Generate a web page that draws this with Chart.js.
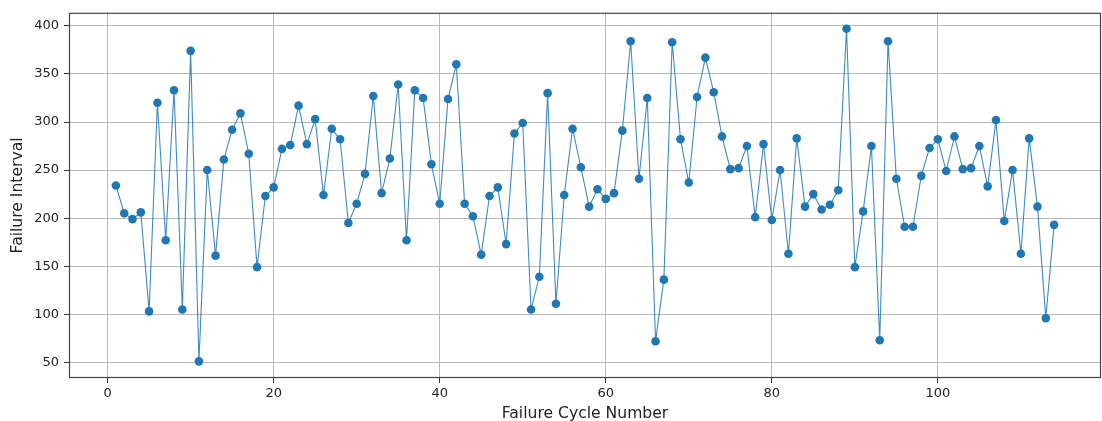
<!DOCTYPE html>
<html>
<head>
<meta charset="utf-8">
<title>Failure Interval by Cycle</title>
<script src="https://cdn.jsdelivr.net/npm/chart.js@4/dist/chart.umd.min.js"></script>
<style>
  html, body { margin: 0; padding: 0; background: #fff; }
  canvas { display: block; }
</style>
</head>
<body>
<canvas id="chart" width="1102" height="421"></canvas>
<script>
// values
const intervals = [
  234, 205, 199, 206, 103, 320, 177, 333, 105, 374,
  51, 250, 161, 261, 292, 309, 267, 149, 223, 232,
  272, 276, 317, 277, 303, 224, 293, 282, 195, 215,
  246, 327, 226, 262, 339, 177, 333, 325, 256, 215,
  324, 360, 215, 202, 162, 223, 232, 173, 288, 299,
  105, 139, 330, 111, 224, 293, 253, 212, 230, 220,
  226, 291, 384, 241, 325, 72, 136, 383, 282, 237,
  326, 367, 331, 285, 251, 252, 275, 201, 277, 198,
  250, 163, 283, 212, 225, 209, 214, 229, 397, 149,
  207, 275, 73, 384, 241, 191, 191, 244, 273, 282,
  249, 285, 251, 252, 275, 233, 302, 197, 250, 163,
  283, 212, 96, 193
];
const cycleNumbers = intervals.map((_, i) => i + 1);

const xTicks = [0, 20, 40, 60, 80, 100];
const yTicks = [50, 100, 150, 200, 250, 300, 350, 400];

const blue = '#1f77b4';
const font = "'DejaVu Sans', sans-serif";

// matplotlib style frame around the plot area
const framePlugin = {
  id: 'frame',
  afterDraw(chart) {
    const { ctx, chartArea: a } = chart;
    ctx.save();
    ctx.strokeStyle = '#444';
    ctx.lineWidth = 1.2;
    ctx.strokeRect(a.left + 0.5, a.top + 0.5, a.right - a.left - 1, a.bottom - a.top - 1);
    ctx.restore();
  }
};

new Chart(document.getElementById('chart'), {
  type: 'line',
  data: {
    datasets: [{
      data: cycleNumbers.map((c, i) => ({ x: c, y: intervals[i] })),
      borderColor: 'rgba(31, 119, 180, 0.85)',
      borderWidth: 1.1,
      backgroundColor: blue,
      pointRadius: 4.3,
      pointBorderWidth: 0,
      pointBackgroundColor: blue,
      tension: 0
    }]
  },
  options: {
    responsive: false,
    animation: false,
    devicePixelRatio: 1,
    layout: { autoPadding: false, padding: { top: 11, right: 1, left: 0, bottom: 0 } },
    plugins: { legend: { display: false }, tooltip: { enabled: false } },
    scales: {
      x: {
        type: 'linear',
        min: -4.65,
        max: 119.65,
        afterBuildTicks: s => { s.ticks = xTicks.map(v => ({ value: v })); },
        afterFit: s => { s.height = 43; },
        grid: { color: '#b8b8b8', lineWidth: 1, tickLength: 5, tickColor: '#333' },
        border: { display: false },
        ticks: { color: '#222', font: { family: font, size: 13 }, padding: 3, maxRotation: 0 },
        title: { display: true, text: 'Failure Cycle Number', color: '#222',
                 font: { family: font, size: 15.6 }, padding: { top: 0, bottom: -2 } }
      },
      y: {
        min: 33.7,
        max: 413.6,
        afterBuildTicks: s => { s.ticks = yTicks.map(v => ({ value: v })); },
        afterFit: s => { s.width = 69; },
        grid: { color: '#b8b8b8', lineWidth: 1, tickLength: 5, tickColor: '#333' },
        border: { display: false },
        ticks: { color: '#222', font: { family: font, size: 13 }, padding: 5 },
        title: { display: true, text: 'Failure Interval', color: '#222',
                 font: { family: font, size: 15.6 }, padding: { top: 9, bottom: 0 } }
      }
    }
  },
  plugins: [framePlugin]
});
</script>
</body>
</html>
